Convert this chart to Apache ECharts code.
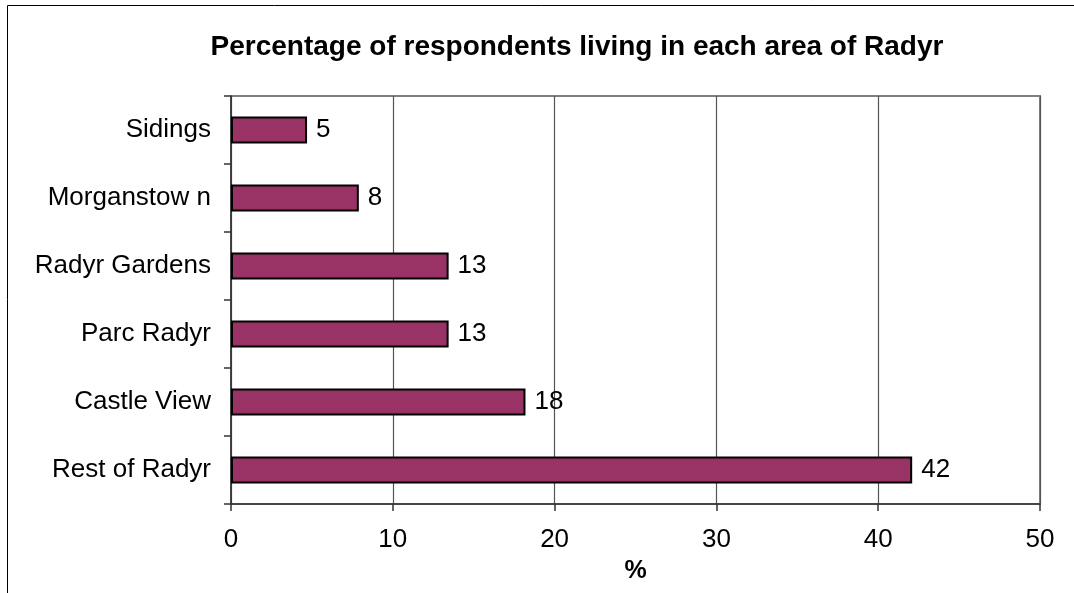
<!DOCTYPE html>
<html>
<head>
<meta charset="utf-8">
<style>
  html, body { margin: 0; padding: 0; background: #fff; }
  #chart { width: 1074px; height: 593px; }
</style>
<script src="https://cdn.jsdelivr.net/npm/echarts@6/dist/echarts.min.js"></script>
</head>
<body>
<div id="chart"></div>
<script>
const titleText = 'Percentage of respondents living in each area of Radyr';
const categories = ['Sidings', 'Morganstow n', 'Radyr Gardens', 'Parc Radyr', 'Castle View', 'Rest of Radyr'];
const values = [4.7, 7.9, 13.45, 13.45, 18.2, 42.1];
const xTicks = [0, 10, 20, 30, 40, 50];
const xAxisName = '%';

const FONT = "'Liberation Sans', Arial, sans-serif";
const chart = echarts.init(document.getElementById('chart'), null, { renderer: 'canvas' });

chart.setOption({
  animation: false,
  backgroundColor: '#ffffff',
  graphic: [
    {
      type: 'rect',
      shape: { x: 7.5, y: 5.5, width: 2000, height: 2000 },
      style: { fill: 'none', stroke: '#000000', lineWidth: 1 },
      silent: true
    },
    {
      type: 'text',
      x: 577, y: 47,
      style: {
        text: titleText,
        font: 'bold 28px ' + FONT,
        fill: '#000000',
        textAlign: 'center',
        textVerticalAlign: 'middle'
      },
      silent: true
    }
  ],
  grid: {
    left: 231, right: 34, top: 96, bottom: 89,
    show: true,
    borderColor: '#808080',
    borderWidth: 2,
    backgroundColor: 'transparent'
  },
  xAxis: {
    type: 'value',
    min: xTicks[0],
    max: xTicks[xTicks.length - 1],
    interval: 10,
    name: xAxisName,
    nameLocation: 'middle',
    nameGap: 55,
    nameTextStyle: { fontFamily: FONT, fontSize: 25, fontWeight: 'bold', color: '#000' },
    axisLine: { show: true, lineStyle: { color: '#333333', width: 1.5 } },
    axisTick: { show: true, length: 7, lineStyle: { color: '#333333', width: 1.5 } },
    axisLabel: { margin: 23, fontFamily: FONT, fontSize: 26, color: '#000', lineHeight: 26 },
    splitLine: { show: true, lineStyle: { color: '#555555', width: 1.2 } }
  },
  yAxis: {
    type: 'category',
    data: categories,
    inverse: true,
    axisLine: { show: true, lineStyle: { color: '#333333', width: 1.5 } },
    axisTick: { show: true, length: 7, lineStyle: { color: '#333333', width: 1.5 } },
    axisLabel: { margin: 20, fontFamily: FONT, fontSize: 26, color: '#000' },
    splitLine: { show: false }
  },
  series: [{
    type: 'bar',
    data: values,
    barWidth: 27,
    itemStyle: { color: '#993366', borderColor: '#000000', borderWidth: 2 },
    label: {
      show: true,
      position: 'right',
      distance: 9,
      fontFamily: FONT,
      fontSize: 26,
      color: '#000',
      formatter: p => Math.round(p.value)
    }
  }]
});
</script>
</body>
</html>
